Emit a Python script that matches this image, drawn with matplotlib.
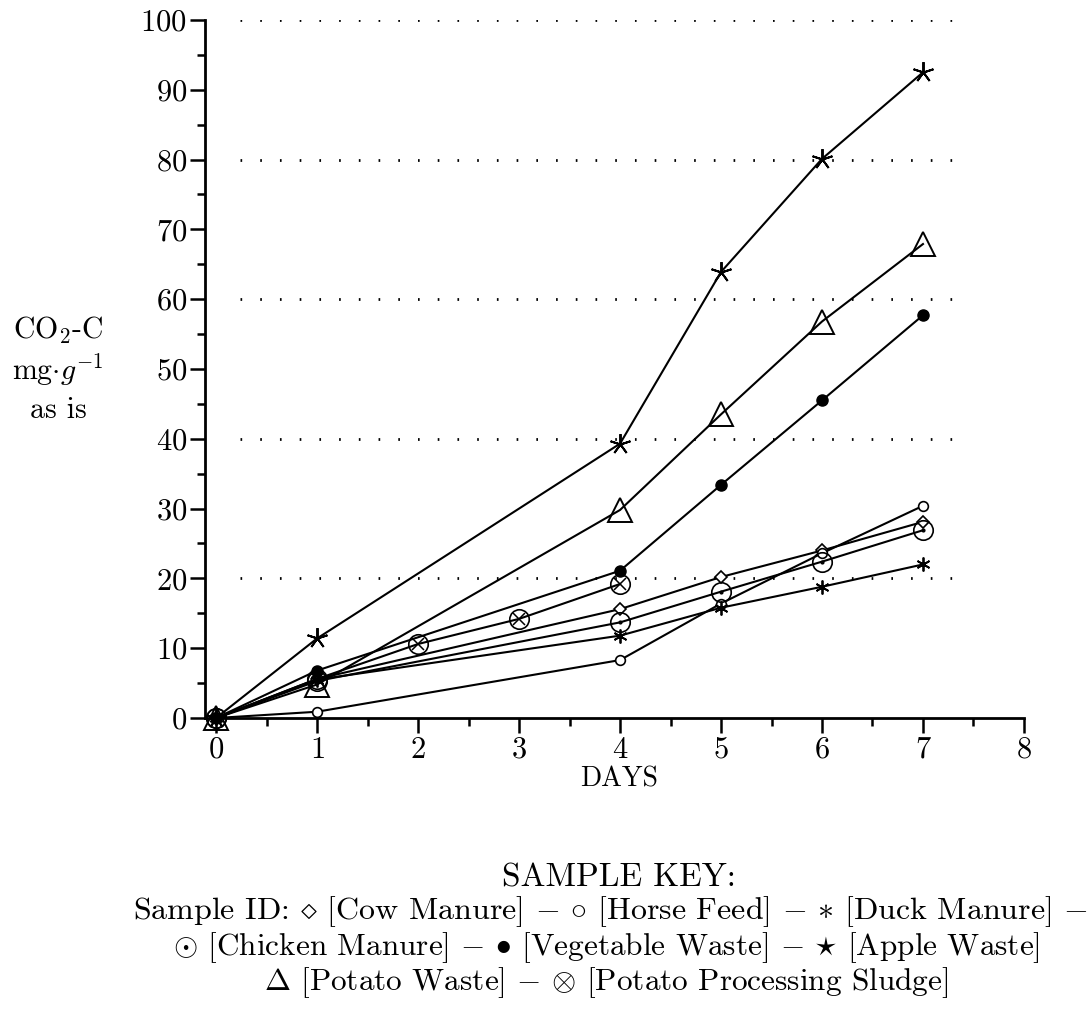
import matplotlib
matplotlib.use("Agg")
import matplotlib.pyplot as plt
from matplotlib.ticker import MultipleLocator

plt.rcParams['font.family'] = ['cmr10', 'DejaVu Serif']
plt.rcParams['mathtext.fontset'] = 'cm'
plt.rcParams['axes.formatter.use_mathtext'] = True

# CO2-C evolved (mg/g as is) per sample
days = [0, 1, 4, 5, 6, 7]
cow_manure = [0, 5.6, 15.6, 20.2, 24.0, 28.1]
horse_feed = [0, 0.9, 8.3, 16.4, 23.6, 30.4]
duck_manure = [0, 5.5, 11.8, 15.8, 18.8, 22.0]
chicken_manure = [0, 5.3, 13.7, 18.1, 22.4, 26.9]
vegetable_waste = [0, 6.8, 21.1, 33.4, 45.5, 57.7]
apple_waste = [0, 11.4, 39.3, 63.9, 80.1, 92.5]
potato_waste = [0, 4.8, 29.8, 43.5, 56.8, 67.9]

sludge_days = [0, 1, 2, 3, 4]
potato_sludge = [0, 5.6, 10.6, 14.2, 19.2]

grid_levels = [20, 40, 60, 80, 100]

fig = plt.figure(figsize=(10.92, 10.13), dpi=100)
ax = fig.add_axes([0.1877, 0.2912, 0.75, 0.6891])

# dotted reference lines
for g in grid_levels:
    ax.plot([0.24, 7.45], [g, g], color='black', lw=2, ls=(0, (0.6, 6.5)), zorder=1)

lk = dict(color='black', lw=1.5, clip_on=False, zorder=3)
ax.plot(days, cow_manure, marker='D', ms=6, mfc='white', mec='black', mew=1.2, **lk)
ax.plot(days, horse_feed, marker='o', ms=7, mfc='white', mec='black', mew=1.2, **lk)
ax.plot(days, duck_manure, marker=(6, 2, 0), ms=10, mec='black', mew=1.3, **lk)
ax.plot(days, chicken_manure, marker='o', ms=14, mfc='none', mec='black', mew=1.2, **lk)
ax.plot(days, chicken_manure, ls='none', marker='o', ms=2, color='black', clip_on=False, zorder=4)
ax.plot(days, vegetable_waste, marker='o', ms=8, mfc='black', mec='black', **lk)
ax.plot(days, apple_waste, marker=(5, 2, 0), ms=15, mec='black', mew=1.4, **lk)
ax.plot(days, potato_waste, marker='^', ms=17, mfc='none', mec='black', mew=1.4, **lk)
ax.plot(sludge_days, potato_sludge, marker='o', ms=14, mfc='none', mec='black', mew=1.2, **lk)
ax.plot(sludge_days[1:], potato_sludge[1:], ls='none', marker='x', ms=9, mec='black', mew=1.1,
        clip_on=False, zorder=4)

ax.set_xlim(-0.11, 8)
ax.set_ylim(0, 100)
ax.xaxis.set_major_locator(MultipleLocator(1))
ax.xaxis.set_minor_locator(MultipleLocator(0.5))
ax.yaxis.set_major_locator(MultipleLocator(10))
ax.yaxis.set_minor_locator(MultipleLocator(5))
ax.tick_params(which='major', direction='out', length=11, width=1.8, labelsize=22, pad=2)
ax.tick_params(which='minor', direction='out', length=6, width=1.8)
for s in ['top', 'right']:
    ax.spines[s].set_visible(False)
for s in ['left', 'bottom']:
    ax.spines[s].set_linewidth(2)

fig.text(0.567, 1 - 779 / 1013, 'DAYS', ha='center', va='center', fontsize=20)

# y axis label as three stacked lines
fig.text(0.053, 1 - 330 / 1013, r'CO$_2$-C', ha='center', va='center', fontsize=21.5)
fig.text(0.053, 1 - 370 / 1013, r'mg$\cdot g^{-1}$', ha='center', va='center', fontsize=21.5)
fig.text(0.053, 1 - 410 / 1013, 'as is', ha='center', va='center', fontsize=21.5)

# sample key
dash = r'$-$'
fig.text(0.567, 1 - 878 / 1013, 'SAMPLE KEY:', ha='center', va='center', fontsize=24)
fig.text(0.559, 1 - 912 / 1013,
         r'Sample ID: $\diamond$ [Cow Manure] ' + dash + r' $\circ$ [Horse Feed] ' + dash
         + r' $\ast$ [Duck Manure] ' + dash,
         ha='center', va='center', fontsize=23)
fig.text(0.555, 1 - 948 / 1013,
         r'$\odot$ [Chicken Manure] ' + dash + r' $\bullet$ [Vegetable Waste] ' + dash
         + r' $\star$ [Apple Waste]',
         ha='center', va='center', fontsize=22.5)
fig.text(0.555, 1 - 983 / 1013,
         r'$\Delta$ [Potato Waste] ' + dash + r' $\otimes$ [Potato Processing Sludge]',
         ha='center', va='center', fontsize=22.5)

plt.savefig("out.png", dpi=100)
